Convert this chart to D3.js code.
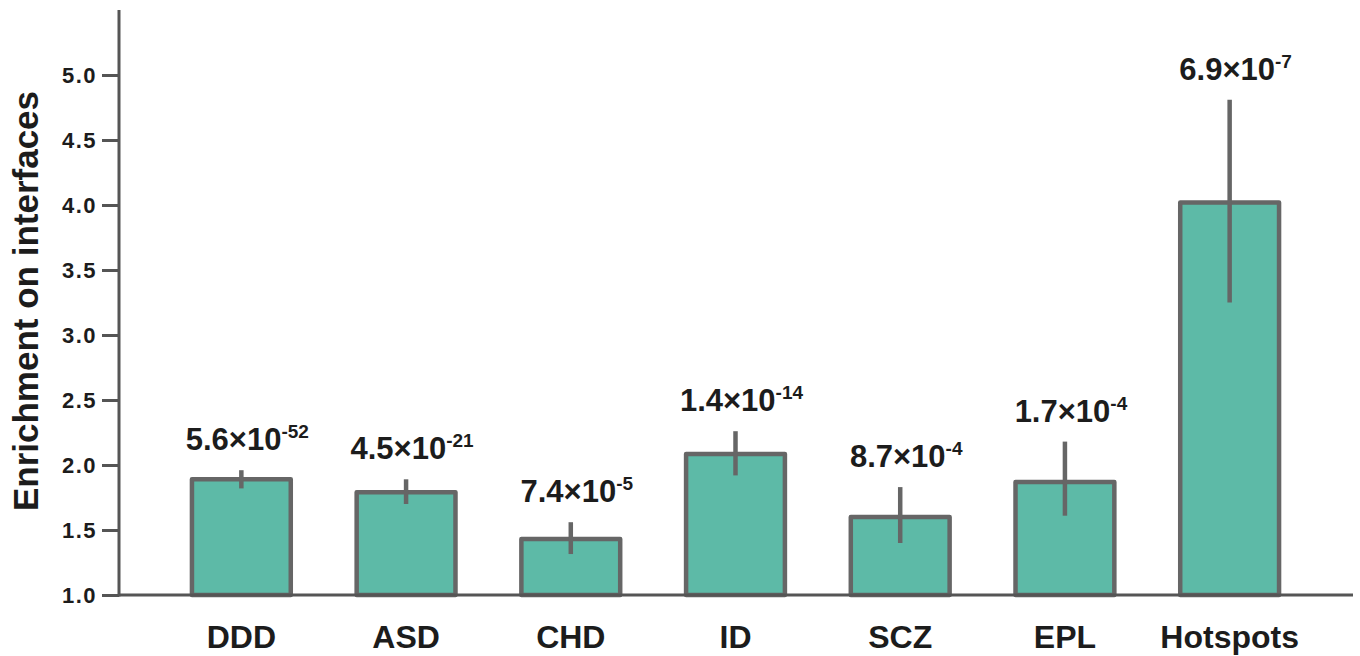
<!DOCTYPE html>
<html>
<head>
<meta charset="utf-8">
<script src="https://cdn.jsdelivr.net/npm/d3@7"></script>
<style>
  body { margin: 0; background: #fff; }
  text { font-family: "Liberation Sans", Arial, Helvetica, sans-serif; font-weight: bold; fill: #1c1c1c; }
</style>
</head>
<body>
<div id="chart"></div>
<script>
const categories = ['DDD', 'ASD', 'CHD', 'ID', 'SCZ', 'EPL', 'Hotspots'];
const enrichment = [1.89, 1.79, 1.43, 2.085, 1.60, 1.87, 4.02];
const errLow     = [1.82, 1.70, 1.315, 1.92, 1.40, 1.61, 3.25];
const errHigh    = [1.96, 1.89, 1.56, 2.26, 1.83, 2.18, 4.81];
const pMantissa  = ['5.6', '4.5', '7.4', '1.4', '8.7', '1.7', '6.9'];
const pExponent  = ['-52', '-21', '-5', '-14', '-4', '-4', '-7'];
const yTicks     = [1.0, 1.5, 2.0, 2.5, 3.0, 3.5, 4.0, 4.5, 5.0];

const width = 1360, height = 656;
const barFill = '#5dbaa7', edge = '#666666', axisCol = '#555555';

const svg = d3.select('#chart').append('svg')
    .attr('width', width)
    .attr('height', height);

const x = d3.scaleBand()
    .domain(categories)
    .range([159, 1312])
    .paddingInner(0.4)
    .paddingOuter(0.2);

const y = d3.scaleLinear()
    .domain([1, 5.5])
    .range([595, 10]);

const rows = categories.map((c, i) => ({
    cat: c, v: enrichment[i], lo: errLow[i], hi: errHigh[i],
    m: pMantissa[i], e: pExponent[i]
}));

// y axis
const yAxis = svg.append('g')
    .attr('transform', 'translate(119,0)')
    .call(d3.axisLeft(y).tickValues(yTicks).tickFormat(d3.format('.1f')).tickSize(17).tickPadding(5));
yAxis.select('.domain').remove();
yAxis.selectAll('.tick line').attr('stroke', axisCol).attr('stroke-width', 3);
yAxis.selectAll('.tick text')
    .attr('font-size', '22px')
    .attr('letter-spacing', '1.5px')
    .attr('fill', '#1c1c1c');

svg.append('line')
    .attr('x1', 119).attr('x2', 119)
    .attr('y1', 10).attr('y2', y(1) + 1.5)
    .attr('stroke', axisCol).attr('stroke-width', 3);

// bars
svg.selectAll('rect.bar')
    .data(rows)
    .enter().append('rect')
    .attr('class', 'bar')
    .attr('x', d => x(d.cat))
    .attr('width', x.bandwidth())
    .attr('y', d => y(d.v))
    .attr('height', d => y(1) - y(d.v))
    .attr('fill', barFill)
    .attr('stroke', edge)
    .attr('stroke-width', 4.5)
    .attr('stroke-linejoin', 'round');

// x axis
const xAxis = svg.append('g')
    .attr('transform', 'translate(0,' + y(1) + ')')
    .call(d3.axisBottom(x).tickSize(0).tickPadding(30));
xAxis.select('.domain').remove();
xAxis.selectAll('.tick text')
    .attr('font-size', '32px')
    .attr('fill', '#1c1c1c');

svg.append('line')
    .attr('x1', 119).attr('x2', 1353)
    .attr('y1', y(1)).attr('y2', y(1))
    .attr('stroke', axisCol).attr('stroke-width', 3);

// error bars
svg.selectAll('line.err')
    .data(rows)
    .enter().append('line')
    .attr('class', 'err')
    .attr('x1', d => x(d.cat) + x.bandwidth() / 2)
    .attr('x2', d => x(d.cat) + x.bandwidth() / 2)
    .attr('y1', d => y(d.lo))
    .attr('y2', d => y(d.hi))
    .attr('stroke', edge)
    .attr('stroke-width', 4.5);

// p-value labels
const lbl = svg.selectAll('text.pval')
    .data(rows)
    .enter().append('text')
    .attr('class', 'pval')
    .attr('x', d => x(d.cat) + x.bandwidth() / 2 + 6)
    .attr('y', d => y(d.hi) - 20)
    .attr('text-anchor', 'middle')
    .attr('font-size', '31px');
lbl.append('tspan').text(d => d.m + '×10');
lbl.append('tspan')
    .attr('font-size', '19px')
    .attr('dy', -12)
    .text(d => d.e);

// y title
svg.append('text')
    .attr('transform', 'translate(38,301) rotate(-90)')
    .attr('text-anchor', 'middle')
    .attr('font-size', '35px')
    .text('Enrichment on interfaces');
</script>
</body>
</html>
